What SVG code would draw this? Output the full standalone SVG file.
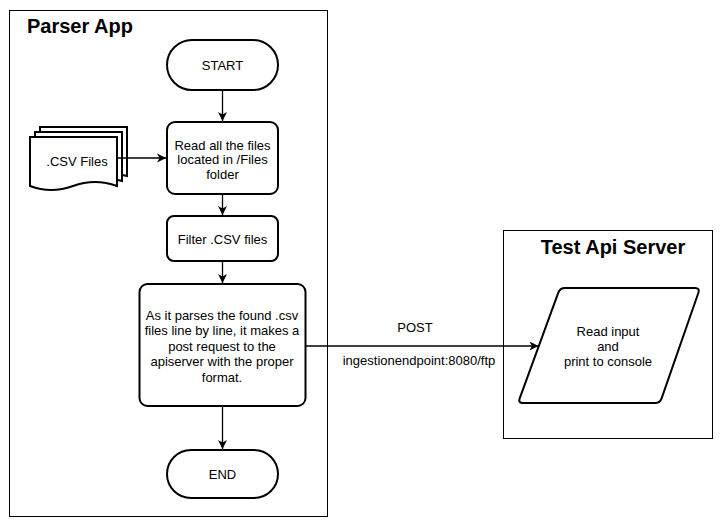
<svg xmlns="http://www.w3.org/2000/svg" width="723" height="527" viewBox="0 0 723 527">
<defs>
<style>
.cont{fill:#fff;stroke:#000;stroke-width:1}
.node{fill:#fff;stroke:#000;stroke-width:2}
.t{font-family:"Liberation Sans",Arial,sans-serif;font-size:13px;fill:#000;text-anchor:middle}
.title{font-family:"Liberation Sans",Arial,sans-serif;font-size:20px;font-weight:bold;fill:#000}
.edge{fill:none;stroke:#000;stroke-width:1.3}
</style>
<marker id="arr" markerWidth="10" markerHeight="10" refX="9" refY="5" orient="auto" markerUnits="userSpaceOnUse">
<path d="M0,0.5 L9,5 L0,9.5 L2.5,5 Z" fill="#000"/>
</marker>
</defs>
<rect width="723" height="527" fill="#fff"/>
<g id="parser-app">
<rect class="cont" x="9.5" y="10.5" width="318" height="506"/>
<text class="title" x="27" y="33">Parser App</text>
</g>
<g id="test-api-server">
<rect class="cont" x="503.5" y="230.5" width="209" height="208"/>
<text class="title" x="613" y="254" text-anchor="middle">Test Api Server</text>
</g>
<g id="start">
<rect class="node" x="167" y="40" width="111" height="50" rx="25" ry="25"/>
<text class="t" x="222.5" y="69.5">START</text>
</g>
<g id="csv-files">
<path class="node" d="M40,127 L127,127 L127,176 C112,172 100,174 90,177 L40,177 Z"/>
<path class="node" d="M35,132 L122,132 L122,181 C105,176 95,178 85,182 L35,182 Z"/>
<path class="node" d="M30,137 L117,137 L117,186 Q95,178 73,186 Q51,194 30,186 Z"/>
<text class="t" x="77" y="166">.CSV Files</text>
</g>
<g id="read-files">
<rect class="node" x="167" y="122" width="111" height="72" rx="8" ry="8"/>
<text class="t" x="222.5" y="149.5">Read all the files</text>
<text class="t" x="222.5" y="164">located in /Files</text>
<text class="t" x="222.5" y="178.5">folder</text>
</g>
<g id="filter">
<rect class="node" x="167" y="216" width="111" height="45" rx="7" ry="7"/>
<text class="t" x="222.5" y="244">Filter .CSV files</text>
</g>
<g id="parse">
<rect class="node" x="139.5" y="284" width="166" height="122" rx="8" ry="8"/>
<text class="t" x="222" y="319.5">As it parses the found .csv</text>
<text class="t" x="222" y="335">files line by line, it makes a</text>
<text class="t" x="222" y="350.5">post request to the</text>
<text class="t" x="222" y="366">apiserver with the proper</text>
<text class="t" x="222" y="381.5">format.</text>
</g>
<g id="end">
<rect class="node" x="167" y="450" width="111" height="48" rx="24" ry="24"/>
<text class="t" x="222.5" y="478.5">END</text>
</g>
<g id="read-input">
<path class="node" d="M565,288 L695,288 Q700,288 698.4,292.7 L661.6,398.3 Q660,403 655,403 L523,403 Q518,403 519.7,398.3 L558.3,292.7 Q560,288 565,288 Z"/>
<text class="t" x="608" y="335.5">Read input</text>
<text class="t" x="608" y="350.5">and</text>
<text class="t" x="608" y="365.5">print to console</text>
</g>
<g id="connectors">
<line class="edge" x1="222.5" y1="90" x2="222.5" y2="121" marker-end="url(#arr)"/>
<line class="edge" x1="117" y1="158" x2="166" y2="158" marker-end="url(#arr)"/>
<line class="edge" x1="222.5" y1="194" x2="222.5" y2="215" marker-end="url(#arr)"/>
<line class="edge" x1="222.5" y1="261" x2="222.5" y2="283" marker-end="url(#arr)"/>
<line class="edge" x1="222.5" y1="406" x2="222.5" y2="449" marker-end="url(#arr)"/>
<line class="edge" x1="306" y1="346" x2="538.5" y2="346" marker-end="url(#arr)"/>
<text class="t" x="415" y="332">POST</text>
<text class="t" x="419" y="365">ingestionendpoint:8080/ftp</text>
</g>
</svg>
